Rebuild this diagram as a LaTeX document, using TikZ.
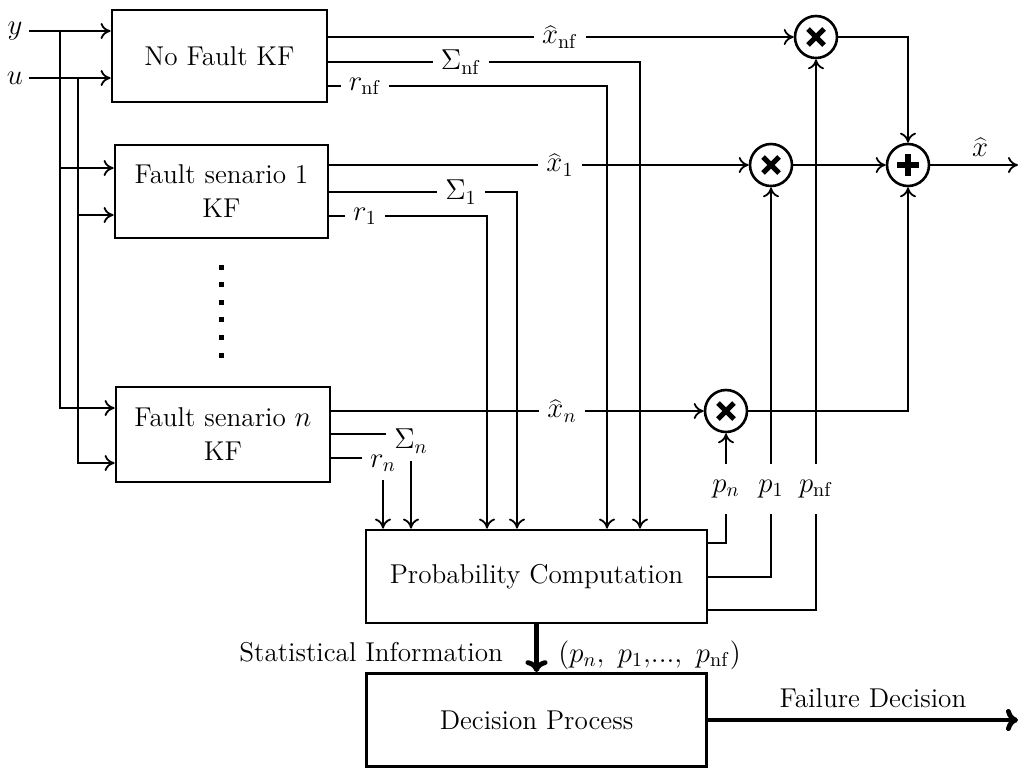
\documentclass[tikz,border=0pt]{standalone}
\usetikzlibrary{arrows.meta,calc}
\begin{document}
\begin{tikzpicture}[x=0.5pt,y=-0.5pt,
  font=\fontsize{13.6}{17}\selectfont,
  >={To[length=5pt,width=8pt]},
  conn/.style={line width=0.9pt},
  bigarrow/.style={line width=2.4pt,-{To[length=6pt,width=11pt]}},
  blk/.style={draw,line width=1.4pt,align=center,inner sep=0pt},
  lab/.style={fill=white,inner sep=4pt},
  plab/.style={inner xsep=3pt,inner ysep=8pt},
  elab/.style={inner sep=4pt},
  mult/.style={circle,draw,line width=1.3pt,minimum size=21pt,inner sep=0pt,
    path picture={
      \draw[line width=2.6pt] ([xshift=-4pt,yshift=-4pt]path picture bounding box.center) -- ([xshift=4pt,yshift=4pt]path picture bounding box.center);
      \draw[line width=2.6pt] ([xshift=-4pt,yshift=4pt]path picture bounding box.center) -- ([xshift=4pt,yshift=-4pt]path picture bounding box.center);}},
  summ/.style={circle,draw,line width=1.3pt,minimum size=21pt,inner sep=0pt,
    path picture={
      \draw[line width=3pt] ([xshift=-5.5pt]path picture bounding box.center) -- ([xshift=5.5pt]path picture bounding box.center);
      \draw[line width=3pt] ([yshift=-5.5pt]path picture bounding box.center) -- ([yshift=5.5pt]path picture bounding box.center);}}
]
\useasboundingbox (0,0) rectangle (1020,768);

% blocks
\node[blk,minimum width=107.5pt,minimum height=46pt] (nf) at (219.5,56) {No Fault KF};
\node[blk,minimum width=106.5pt,minimum height=46.5pt] (f1) at (221.5,191.5) {Fault senario 1\\KF};
\node[blk,minimum width=107pt,minimum height=47.5pt] (fn) at (223,434.5) {Fault senario $n$\\KF};
\node[blk,minimum width=170.5pt,minimum height=46.5pt] (pc) at (536.5,576.5) {Probability Computation};
\node[blk,minimum width=170pt,minimum height=46.5pt] (dp) at (536.5,720) {Decision Process};

% operators
\node[mult] (m0) at (816,37) {};
\node[mult] (m1) at (771,165) {};
\node[mult] (mn) at (726,411) {};
\node[summ] (s) at (908,165) {};

% inputs
\node[inner sep=3pt] (yl) at (15,31) {$y$};
\node[inner sep=3pt] (ul) at (15,78) {$u$};
\coordinate (by) at (60,31);
\coordinate (bu) at (78,78);
\draw[conn,->] (yl.east |- by) -- (nf.west |- by);
\draw[conn,->] (ul.east |- bu) -- (nf.west |- bu);
\draw[conn,->] (by) |- (f1.west |- 0,168);
\draw[conn,->] (by) |- (fn.west |- 0,408);
\draw[conn,->] (bu) |- (f1.west |- 0,215);
\draw[conn,->] (bu) |- (fn.west |- 0,463);

% dots
\foreach \k in {0,...,5} \fill (218.5,264.5+17.6*\k) rectangle ++(5,5);

% no fault outputs
\draw[conn,->] (nf.east |- m0) -- (m0.west);
\draw[conn,->] (nf.east |- 0,62) -| (pc.north -| 640,0);
\draw[conn,->] (nf.east |- 0,86) -| (pc.north -| 607,0);
% fault 1 outputs
\draw[conn,->] (f1.east |- m1) -- (m1.west);
\draw[conn,->] (f1.east |- 0,192) -| (pc.north -| 517,0);
\draw[conn,->] (f1.east |- 0,216) -| (pc.north -| 487,0);
% fault n outputs
\draw[conn,->] (fn.east |- mn) -- (mn.west);
\node[elab] (Sn) at (411,441) {$\Sigma_n$};
\node[elab] (rn) at (383,463) {$r_n$};
\draw[conn] (fn.east |- 0,434) -- (Sn.west |- 0,434);
\draw[conn] (fn.east |- 0,458) -- (rn.west |- 0,458);
\draw[conn,->] (Sn.south) -- (pc.north -| Sn.south);
\draw[conn,->] (rn.south) -- (pc.north -| rn.south);

% labels on lines
\node[lab] (lxnf) at (560,37) {$\widehat{x}_{\mathrm{nf}}$};
\node[lab] (lSnf) at (461,62) {$\Sigma_{\mathrm{nf}}$};
\node[lab] (lrnf) at (365,86) {$r_{\mathrm{nf}}$};
\node[lab] (lx1) at (560,165) {$\widehat{x}_1$};
\node[lab] (lS1) at (461,192) {$\Sigma_1$};
\node[lab] (lr1) at (365,216) {$r_1$};
\node[lab] (lxn) at (562,411) {$\widehat{x}_n$};

% combining
\draw[conn,->] (m0.east) -| (s.north);
\draw[conn,->] (m1.east) -- (s.west);
\draw[conn,->] (mn.east) -| (s.south);
\coordinate (xout) at (1018,165);
\draw[conn,->] (s.east) -- (xout);
\node (xh) at (980,147) {$\widehat{x}$};

% probabilities
\node[plab] (pn) at (726,489) {$p_n$};
\node[plab] (p1) at (771,489) {$p_1$};
\node[plab] (pnf) at (816,489) {$p_{\mathrm{nf}}$};
\draw[conn] (pc.east |- 0,543) -| (pn.south);
\draw[conn] (pc.east |- 0,577) -| (p1.south);
\draw[conn] (pc.east |- 0,610) -| (pnf.south);
\draw[conn,->] (pn.north) -- (mn.south);
\draw[conn,->] (p1.north) -- (m1.south);
\draw[conn,->] (pnf.north) -- (m0.south);

% decision
\draw[bigarrow] (pc.south) -- (dp.north);
\node[anchor=east] (si) at (510,652) {Statistical Information};
\node[anchor=west,inner sep=0pt] (pv) at (558,655) {$(p_n,\ p_1,\!...,\ p_{\mathrm{nf}})$};
\coordinate (fout) at (1018,720);
\draw[bigarrow] (dp.east) -- (fout);
\node (fd) at (873,698) {Failure Decision};
\end{tikzpicture}
\end{document}
